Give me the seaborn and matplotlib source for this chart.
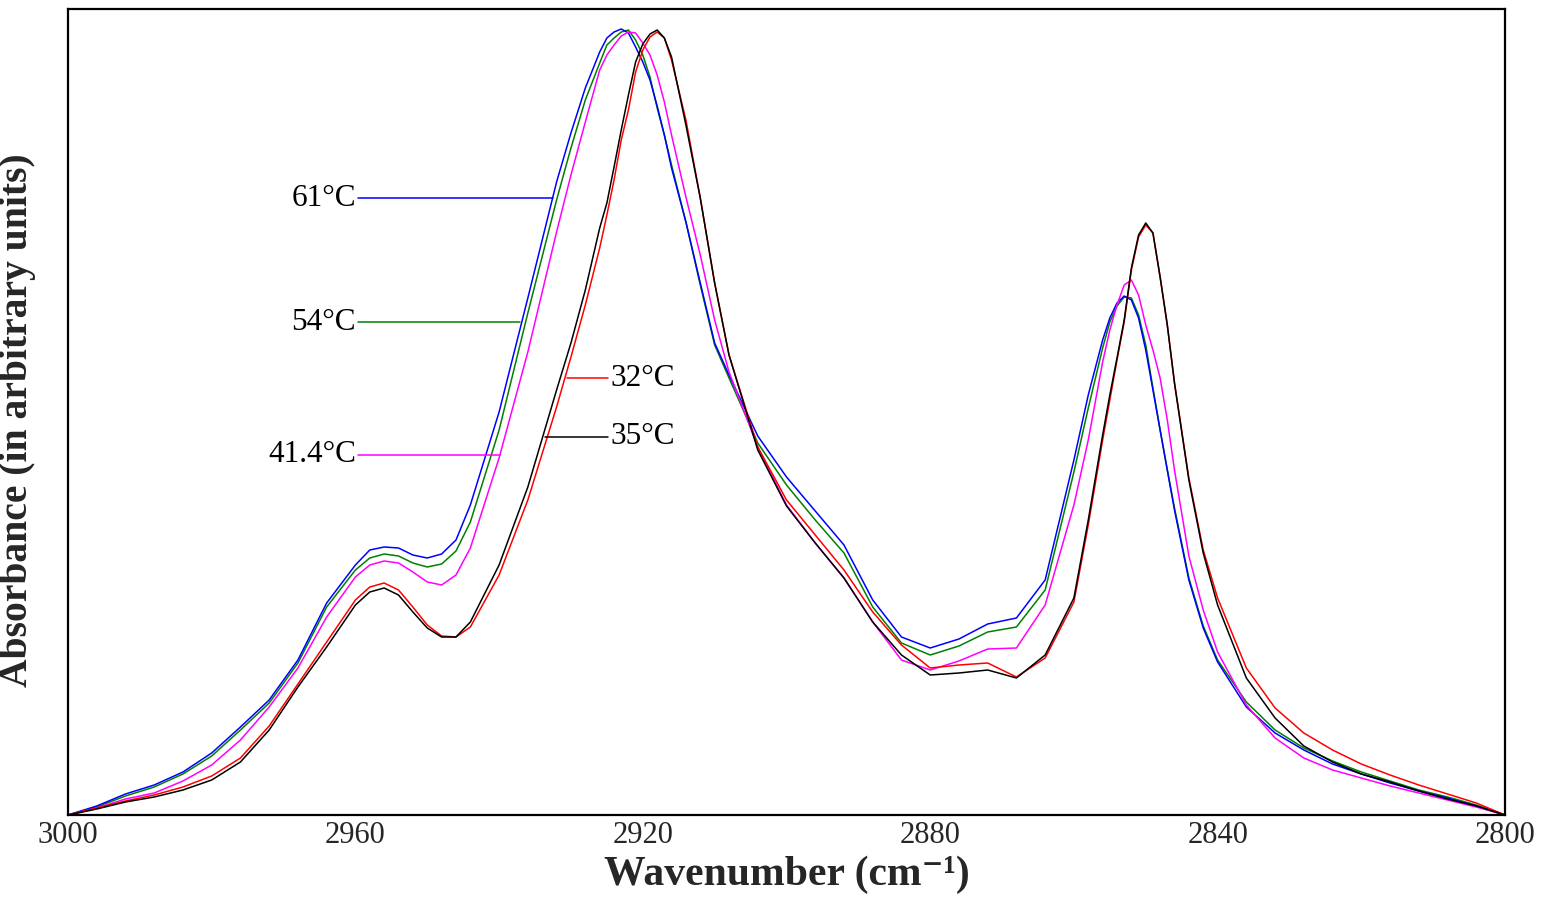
import numpy as np
import pandas as pd
import matplotlib
matplotlib.use("Agg")
import matplotlib.pyplot as plt
import seaborn as sns

# ---------------- data ----------------
wavenumber = [3000, 2996, 2992, 2988, 2984, 2980, 2976, 2972, 2968, 2964, 2960,
              2958, 2956, 2954, 2952, 2950, 2948, 2946, 2944,
              2940, 2936, 2932,
              2930, 2928, 2926, 2925, 2924, 2923, 2922, 2921, 2920, 2919, 2918, 2917,
              2916, 2914, 2912, 2910, 2908,
              2904, 2900, 2896, 2892, 2888, 2884, 2880, 2876, 2872, 2868, 2864,
              2860, 2858, 2856, 2855, 2854, 2853, 2852, 2851, 2850, 2849, 2848, 2847,
              2846, 2844, 2842, 2840,
              2836, 2832, 2828, 2824, 2820, 2816, 2812, 2808, 2804, 2800]

abs_61 = [0, .09, .21, .30, .43, .62, .88, 1.15, 1.55, 2.12, 2.50,
          2.65, 2.68, 2.67, 2.60, 2.57, 2.61, 2.75, 3.10,
          4.03, 5.17, 6.33,
          6.82, 7.27, 7.63, 7.77, 7.83, 7.86, 7.82, 7.68, 7.53, 7.35, 7.09, 6.80,
          6.47, 5.93, 5.32, 4.72, 4.40,
          3.79, 3.38, 3.04, 2.70, 2.15, 1.78, 1.67, 1.76, 1.91, 1.97, 2.35,
          3.55, 4.20, 4.75, 4.97, 5.12, 5.19, 5.15, 4.97, 4.65, 4.25, 3.85, 3.45,
          3.05, 2.35, 1.87, 1.53,
          1.08, 0.82, 0.65, 0.51, 0.41, 0.32, 0.24, 0.17, 0.09, 0]

abs_54 = [0, .08, .19, .28, .41, .59, .85, 1.12, 1.52, 2.08, 2.45,
          2.57, 2.61, 2.59, 2.52, 2.48, 2.51, 2.64, 2.93,
          3.85, 5.02, 6.15,
          6.67, 7.15, 7.52, 7.70, 7.77, 7.83, 7.85, 7.75, 7.60, 7.38, 7.07, 6.80,
          6.50, 5.93, 5.30, 4.70, 4.37,
          3.72, 3.30, 2.95, 2.62, 2.08, 1.72, 1.60, 1.69, 1.83, 1.88, 2.25,
          3.43, 4.07, 4.67, 4.93, 5.09, 5.18, 5.17, 5.00, 4.70, 4.27, 3.85, 3.45,
          3.07, 2.37, 1.89, 1.55,
          1.13, 0.85, 0.67, 0.54, 0.43, 0.34, 0.25, 0.18, 0.10, 0]

abs_41 = [0, .07, .16, .22, .34, .50, .75, 1.08, 1.47, 1.98, 2.38,
          2.50, 2.54, 2.52, 2.43, 2.33, 2.30, 2.40, 2.67,
          3.57, 4.63, 5.83,
          6.40, 6.93, 7.45, 7.60, 7.70, 7.79, 7.83, 7.82, 7.72, 7.60, 7.40, 7.13,
          6.80, 6.18, 5.60, 4.95, 4.43,
          3.68, 3.10, 2.72, 2.37, 1.93, 1.55, 1.45, 1.54, 1.66, 1.67, 2.10,
          3.10, 3.75, 4.53, 4.85, 5.10, 5.30, 5.35, 5.20, 4.90, 4.65, 4.37, 3.95,
          3.45, 2.59, 2.05, 1.63,
          1.10, 0.77, 0.57, 0.45, 0.37, 0.29, 0.22, 0.15, 0.08, 0]

abs_32 = [0, .07, .14, .20, .28, .39, .57, .89, 1.31, 1.73, 2.15,
          2.28, 2.32, 2.25, 2.08, 1.90, 1.79, 1.78, 1.88,
          2.40, 3.15, 4.08,
          4.58, 5.10, 5.67, 6.00, 6.35, 6.75, 7.05, 7.43, 7.65, 7.78, 7.83, 7.77,
          7.55, 6.95, 6.17, 5.32, 4.60,
          3.68, 3.15, 2.80, 2.45, 2.03, 1.70, 1.47, 1.50, 1.52, 1.38, 1.57,
          2.13, 2.90, 3.75, 4.15, 4.55, 4.93, 5.45, 5.78, 5.90, 5.82, 5.38, 4.90,
          4.32, 3.37, 2.65, 2.17,
          1.47, 1.07, 0.82, 0.65, 0.51, 0.40, 0.30, 0.21, 0.12, 0]

abs_35 = [0, .06, .13, .18, .25, .35, .53, .85, 1.28, 1.68, 2.10,
          2.23, 2.27, 2.20, 2.03, 1.87, 1.78, 1.78, 1.93,
          2.50, 3.28, 4.25,
          4.72, 5.25, 5.87, 6.12, 6.48, 6.85, 7.20, 7.53, 7.71, 7.81, 7.85, 7.77,
          7.58, 6.90, 6.17, 5.32, 4.60,
          3.65, 3.09, 2.72, 2.37, 1.93, 1.60, 1.40, 1.42, 1.45, 1.37, 1.60,
          2.17, 2.95, 3.80, 4.20, 4.57, 4.95, 5.47, 5.80, 5.92, 5.82, 5.38, 4.90,
          4.32, 3.35, 2.62, 2.10,
          1.37, 0.97, 0.69, 0.53, 0.41, 0.33, 0.24, 0.16, 0.09, 0]

series_names = ["54°C", "61°C", "41.4°C", "32°C", "35°C"]
series_values = [abs_54, abs_61, abs_41, abs_32, abs_35]
series_colors = ["#008000", "#0000FF", "#FF00FF", "#FF0000", "#000000"]

x_ticks = [3000, 2960, 2920, 2880, 2840, 2800]

# label annotations: text, line start (wavenumber), line end (wavenumber), level, side
label_text = ["61°C", "54°C", "41.4°C", "32°C", "35°C"]
label_x0 = [2959.6, 2959.6, 2959.6, 2924.8, 2924.8]
label_x1 = [2932.5, 2937.1, 2939.9, 2930.5, 2933.6]
label_y = [6.17, 4.93, 3.60, 4.37, 3.78]
label_side = ["left", "left", "left", "right", "right"]
label_color = ["#0000FF", "#008000", "#FF00FF", "#FF0000", "#000000"]

# ---------------- build long table ----------------
frames = []
for name, vals in zip(series_names, series_values):
    assert len(vals) == len(wavenumber), name
    frames.append(pd.DataFrame({"wavenumber": wavenumber, "absorbance": vals, "T": name}))
df = pd.concat(frames, ignore_index=True)

sns.set_theme(style="white")
plt.rcParams["font.family"] = ["Liberation Serif", "DejaVu Serif"]

fig = plt.figure(figsize=(15.47, 8.99), dpi=100)
ax = fig.add_axes([68 / 1547, 84 / 899, 1437 / 1547, 806 / 899])

sns.lineplot(data=df, x="wavenumber", y="absorbance", hue="T",
             palette=dict(zip(series_names, series_colors)),
             hue_order=series_names, estimator=None, sort=False,
             linewidth=1.1, legend=False, ax=ax)

ax.set_xlim(3000, 2800)
ax.set_ylim(0, 8.06)
ax.set_xticks(x_ticks)
ax.set_xticklabels([str(t) for t in x_ticks], fontsize=22)
ax.set_yticks([])
ax.tick_params(axis="x", direction="in", length=4, width=1, pad=4, color="black")

for s in ax.spines.values():
    s.set_visible(True)
    s.set_color("black")
    s.set_linewidth(1.6)

ax.set_xlabel("Wavenumber (cm\u207b\u00b9)", fontsize=30, fontweight="bold",
              family=["Liberation Serif", "DejaVu Serif"])
ax.xaxis.set_label_coords(0.5, -0.05)
ax.set_ylabel("Absorbance (in arbitrary units)", fontsize=28.5, fontweight="bold")
ax.yaxis.set_label_coords(-0.022, 0.49)

for t, x0, x1, y, side, c in zip(label_text, label_x0, label_x1, label_y, label_side, label_color):
    ax.plot([x0, x1], [y, y], color=c, linewidth=1.1)
    if side == "left":
        ax.text(x0 + 0.3, y, t, ha="right", va="center", fontsize=22.5, color="black")
    else:
        ax.text(x0 - 0.3, y, t, ha="left", va="center", fontsize=22.5, color="black")

fig.savefig("out.png", dpi=100)
